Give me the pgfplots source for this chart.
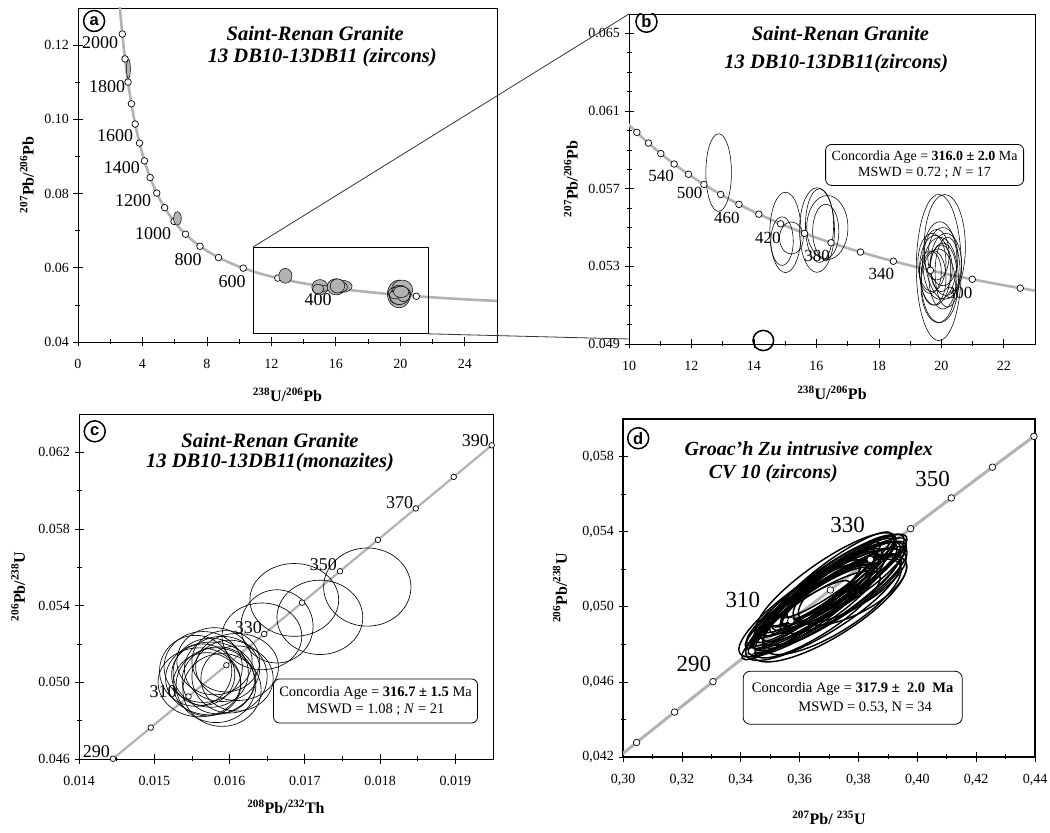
\documentclass[border=0pt]{standalone}
\usepackage{pgfplots}
\pgfplotsset{compat=1.18}
\usepackage{pgfplotstable}
\usepackage{fontspec}
\setmainfont{Liberation Serif}
\newfontfamily\sansbf{Liberation Sans}

\pgfdeclareplotmark{ellS}{\pgfpathellipse{\pgfpointorigin}{\pgfpointpolar{\erot}{\erx pt}}{\pgfpointpolar{\erotb}{\ery pt}}\pgfusepathqstroke}
\pgfdeclareplotmark{ellF}{\pgfpathellipse{\pgfpointorigin}{\pgfpointpolar{\erot}{\erx pt}}{\pgfpointpolar{\erotb}{\ery pt}}\pgfusepathqfillstroke}

\tikzset{
  circlab/.style={circle, draw, line width=1.5pt, inner sep=0pt, minimum size=21pt, font=\sansbf\bfseries\fontsize{16.5}{16.5}\selectfont},
  ttl/.style={font=\fontsize{20.5}{23}\selectfont\bfseries\itshape},
}
\pgfplotsset{
  panel/.style={scale only axis, clip=true, anchor=south west,
    axis line style={line width=0.9pt},
    every tick/.style={black, line width=0.7pt},
    tick align=center, major tick length=9pt, minor tick length=5pt,
    tick pos=left, scaled ticks=false,
    /pgf/number format/assume math mode=true,
    tick label style={font=\fontsize{14}{16}\selectfont},
    x tick label style={yshift=-9pt},
    y tick label style={xshift=-1pt},
    label style={font=\fontsize{16}{18}\selectfont\bfseries}},
  conc/.style={smooth, no markers, line width=2.6pt, color=black!30},
  cmark/.style={only marks, mark=*, mark size=3.3pt, mark options={fill=white, draw=black, line width=0.7pt}},
  ellplot/.style n args={3}{scatter, only marks, mark=#3,
    visualization depends on={\thisrow{rx}*#1 \as \erx},
    visualization depends on={\thisrow{ry}*#2 \as \ery},
    scatter/@pre marker code/.code={\def\erot{0}\def\erotb{90}},
    scatter/@post marker code/.code={}},
  rotell/.style={scatter, only marks, mark=ellS,
    visualization depends on={\thisrow{a} \as \erx},
    visualization depends on={\thisrow{b} \as \ery},
    visualization depends on={\thisrow{rot} \as \erot},
    visualization depends on={\thisrow{rot}+90 \as \erotb},
    scatter/@pre marker code/.code={},
    scatter/@post marker code/.code={}},
}

% Tera-Wasserburg concordia (238U/206Pb, 207Pb/206Pb)
\pgfplotstableread{
age x y
2200 2.4586 0.137822
2100 2.5968 0.130151
2000 2.7490 0.122987
1900 2.9174 0.116293
1800 3.1046 0.110037
1700 3.3139 0.104186
1600 3.5497 0.098716
1500 3.8170 0.093597
1400 4.1227 0.088807
1300 4.4756 0.084323
1200 4.8875 0.080123
1100 5.3746 0.076187
1000 5.9593 0.072500
900 6.6743 0.069042
800 7.5684 0.065799
700 8.7182 0.062757
620 9.9055 0.060458
600 10.2518 0.059901
580 10.6220 0.059351
560 11.0187 0.058808
540 11.4448 0.058272
520 11.9037 0.057743
500 12.3993 0.057219
480 12.9362 0.056703
460 13.5199 0.056193
440 14.1566 0.055689
420 14.8540 0.055192
400 15.6212 0.054701
380 16.4691 0.054215
360 17.4114 0.053736
340 18.4645 0.053263
320 19.6492 0.052795
300 20.9920 0.052333
280 22.5265 0.051877
260 24.2973 0.051426
240 26.3633 0.050983
}\twline
\pgfplotstableread{
age x y
2000 2.7490 0.122987
1900 2.9174 0.116293
1800 3.1046 0.110037
1700 3.3139 0.104186
1600 3.5497 0.098716
1500 3.8170 0.093597
1400 4.1227 0.088807
1300 4.4756 0.084323
1200 4.8875 0.080123
1100 5.3746 0.076187
1000 5.9593 0.072500
900 6.6743 0.069042
800 7.5684 0.065799
700 8.7182 0.062757
600 10.2518 0.059901
500 12.3993 0.057219
400 15.6212 0.054701
300 20.9920 0.052333
}\twmarkA
\pgfplotstableread{
age x y
600 10.2518 0.059901
580 10.6220 0.059351
560 11.0187 0.058808
540 11.4448 0.058272
520 11.9037 0.057743
500 12.3993 0.057219
480 12.9362 0.056703
460 13.5199 0.056193
440 14.1566 0.055689
420 14.8540 0.055192
400 15.6212 0.054701
380 16.4691 0.054215
360 17.4114 0.053736
340 18.4645 0.053263
320 19.6492 0.052795
300 20.9920 0.052333
280 22.5265 0.051877
}\twmarkB
% zircon ellipses (centre, half-widths in axis units)
\pgfplotstableread{
x y rx ry
12.87 0.05783 0.41 0.00200
15.01 0.05475 0.50 0.00207
15.20 0.05446 0.38 0.00083
14.90 0.05430 0.36 0.00125
16.02 0.05487 0.56 0.00218
16.35 0.05500 0.66 0.00165
16.30 0.05480 0.42 0.00140
16.10 0.05510 0.45 0.00190
19.92 0.05294 0.72 0.00376
20.11 0.05400 0.66 0.00270
19.95 0.05330 0.55 0.00200
19.80 0.05280 0.50 0.00180
20.05 0.05250 0.45 0.00170
19.70 0.05320 0.45 0.00150
19.90 0.05200 0.55 0.00190
20.15 0.05310 0.50 0.00160
19.85 0.05360 0.40 0.00130
19.75 0.05240 0.40 0.00140
20.00 0.05290 0.35 0.00120
19.95 0.05230 0.60 0.00220
20.20 0.05270 0.40 0.00180
19.65 0.05270 0.35 0.00110
20.05 0.05350 0.48 0.00150
}\ellB
\pgfplotstableread{
x y rx ry
3.13 0.1136 0.12 0.0026
6.17 0.0733 0.24 0.0018
}\ellAold
\pgfplotstableread{
x y rx ry
14.30 0.04918 0.33 0.00052
}\ellBcirc
% Th-U concordia
\pgfplotstableread{
age x y
280 0.0139494 0.0443921
290 0.0144512 0.0460135
300 0.0149532 0.0476374
310 0.0154555 0.0492638
320 0.0159580 0.0508927
330 0.0164608 0.0525242
340 0.0169638 0.0541582
350 0.0174671 0.0557947
360 0.0179706 0.0574338
370 0.0184743 0.0590754
380 0.0189783 0.0607196
390 0.0194826 0.0623664
400 0.0199871 0.0640154
}\thline
\pgfplotstableread{
age x y
290 0.0144512 0.0460135
300 0.0149532 0.0476374
310 0.0154555 0.0492638
320 0.0159580 0.0508927
330 0.0164608 0.0525242
340 0.0169638 0.0541582
350 0.0174671 0.0557947
360 0.0179706 0.0574338
370 0.0184743 0.0590754
380 0.0189783 0.0607196
390 0.0194826 0.0623664
}\thmark
\pgfplotstableread{
x y rx ry
0.01783 0.05497 0.00058 0.00204
0.01720 0.05339 0.00057 0.00194
0.01686 0.05430 0.00059 0.00190
0.01663 0.05292 0.00048 0.00191
0.01643 0.05240 0.00053 0.00174
0.01575 0.05050 0.00050 0.00180
0.01565 0.05080 0.00052 0.00185
0.01585 0.05010 0.00048 0.00175
0.01560 0.05000 0.00055 0.00180
0.01590 0.05070 0.00050 0.00170
0.01600 0.05030 0.00050 0.00190
0.01570 0.04990 0.00045 0.00165
0.01580 0.05110 0.00050 0.00175
0.01555 0.05060 0.00048 0.00185
0.01610 0.05080 0.00055 0.00175
0.01590 0.04960 0.00052 0.00190
0.01575 0.05020 0.00060 0.00190
0.01595 0.05110 0.00045 0.00160
0.01565 0.05040 0.00042 0.00160
0.01610 0.05020 0.00048 0.00170
0.01582 0.04985 0.00053 0.00195
}\ellC
% Wetherill concordia
\pgfplotstableread{
age x y
260 0.291831 0.0411569
270 0.304616 0.0427733
280 0.317529 0.0443921
290 0.330568 0.0460135
300 0.343737 0.0476374
310 0.357037 0.0492638
320 0.370468 0.0508927
330 0.384031 0.0525242
340 0.397729 0.0541582
350 0.411562 0.0557947
360 0.425533 0.0574338
370 0.439642 0.0590754
380 0.453891 0.0607196
}\wline
\pgfplotstableread{
age x y
270 0.304616 0.0427733
280 0.317529 0.0443921
290 0.330568 0.0460135
300 0.343737 0.0476374
310 0.357037 0.0492638
320 0.370468 0.0508927
330 0.384031 0.0525242
340 0.397729 0.0541582
350 0.411562 0.0557947
360 0.425533 0.0574338
370 0.439642 0.0590754
}\wmark
% zircon ellipses (centre; half-axes a, b on the page; tilt)
\pgfplotstableread{
x y a b rot
0.3675 0.0504 98 24 33.5
0.3660 0.0502 80 16 34
0.3700 0.0508 82 20 35
0.3650 0.0500 75 15 36
0.3720 0.0510 78 17 34
0.3690 0.0504 88 22 33
0.3670 0.0507 70 14 36
0.3710 0.0500 80 26 32
0.3640 0.0498 72 16 35
0.3730 0.0513 80 18 35
0.3660 0.0509 78 15 37
0.3700 0.0499 90 28 32
0.3750 0.0512 74 18 33
0.3620 0.0497 78 14 36
0.3690 0.0512 84 22 35
0.3740 0.0507 70 20 31
0.3630 0.0503 66 14 37
0.3710 0.0514 76 15 35
0.3680 0.0499 90 24 32
0.3760 0.0516 72 16 34
0.3650 0.0505 82 17 35
0.3720 0.0505 86 20 34
0.3670 0.0501 68 18 34
0.3700 0.0512 80 14 36
0.3770 0.0511 64 22 30
0.3610 0.0500 70 15 36
0.3690 0.0507 96 18 34
0.3740 0.0515 66 14 36
0.3660 0.0496 74 20 33
0.3710 0.0509 60 12 35
0.3780 0.0509 60 24 28
0.3600 0.0494 62 14 35
0.3720 0.0517 70 15 36
0.3680 0.0510 64 13 36
}\ellD

\begin{document}
\begin{tikzpicture}
\useasboundingbox (0pt,0pt) rectangle (1050pt,833pt);

%---------------- (a)
\begin{axis}[panel, name=A, at={(78pt,491pt)}, width=419pt, height=334pt,
  xmin=0, xmax=26, ymin=0.04, ymax=0.13,
  xtick={0,4,8,12,16,20,24}, ytick={0.04,0.06,0.08,0.10,0.12},
  minor x tick num=1, minor y tick num=1,
  yticklabel style={/pgf/number format/fixed, /pgf/number format/fixed zerofill, /pgf/number format/precision=2},
  xlabel={\textsuperscript{238}U/\textsuperscript{206}Pb},
  ylabel={\textsuperscript{207}Pb/\textsuperscript{206}Pb},
  xlabel style={at={(axis description cs:0.5,-0.159)}, anchor=center},
  ylabel style={at={(axis description cs:-0.122,0.5)}, anchor=center}]
\addplot[conc] table[x=x,y=y] {\twline};
\addplot[cmark] table[x=x,y=y] {\twmarkA};
\addplot[ellplot={16.115}{334/0.09}{ellF}, mark options={draw=black, fill=black!30, line width=0.5pt}] table[x=x,y=y] {\ellB};
\addplot[ellplot={16.115}{334/0.09}{ellF}, mark options={draw=black, fill=black!30, line width=0.5pt}] table[x=x,y=y] {\ellAold};
\draw[line width=0.9pt] (axis cs:10.87,0.0422) rectangle (axis cs:21.74,0.0656);
\coordinate (ins1) at (axis cs:10.87,0.0656);
\coordinate (ins2) at (axis cs:21.74,0.0422);
\node[circlab] at (axis cs:1.0,0.1265) {a};
\node[ttl] at (axis cs:14.72,0.12324) {Saint-Renan Granite};
\node[ttl] at (axis cs:15.16,0.11651) {13 DB10-13DB11 (zircons)};
\begin{scope}[every node/.style={font=\fontsize{18}{20}\selectfont}]
\node at (axis cs:1.37,0.1206) {2000};
\node at (axis cs:1.80,0.1087) {1800};
\node at (axis cs:2.30,0.0957) {1600};
\node at (axis cs:2.73,0.0871) {1400};
\node at (axis cs:3.42,0.0782) {1200};
\node at (axis cs:4.66,0.0693) {1000};
\node at (axis cs:6.83,0.0623) {800};
\node at (axis cs:9.56,0.0562) {600};
\node at (axis cs:14.9,0.0513) {400};
\end{scope}
\end{axis}

%---------------- (b)
\begin{axis}[panel, name=B, at={(629pt,489pt)}, width=406pt, height=330pt,
  xmin=10, xmax=23, ymin=0.049, ymax=0.066,
  xtick={10,12,14,16,18,20,22}, ytick={0.049,0.053,0.057,0.061,0.065},
  minor x tick num=1, minor y tick num=3,
  yticklabel style={/pgf/number format/fixed, /pgf/number format/fixed zerofill, /pgf/number format/precision=3},
  xlabel={\textsuperscript{238}U/\textsuperscript{206}Pb},
  ylabel={\textsuperscript{207}Pb/\textsuperscript{206}Pb},
  xlabel style={at={(axis description cs:0.5,-0.148)}, anchor=center},
  ylabel style={at={(axis description cs:-0.143,0.5)}, anchor=center}]
\addplot[conc] table[x=x,y=y] {\twline};
\begin{scope}[every node/.style={font=\fontsize{17}{19}\selectfont}]
\node at (axis cs:11.03,0.05764) {540};
\node at (axis cs:11.94,0.05679) {500};
\node at (axis cs:13.13,0.05550) {460};
\node at (axis cs:14.45,0.05448) {420};
\node at (axis cs:16.02,0.05353) {380};
\node at (axis cs:18.08,0.05259) {340};
\node at (axis cs:20.59,0.05165) {300};
\end{scope}
\addplot[ellplot={31.2308}{330/0.017}{ellS}, mark options={draw=black, line width=0.55pt}] table[x=x,y=y] {\ellB};
\addplot[ellplot={31.2308}{330/0.017}{ellS}, mark options={draw=black, line width=1.5pt}] table[x=x,y=y] {\ellBcirc};
\addplot[cmark] table[x=x,y=y] {\twmarkB};
\node[circlab] at (axis cs:10.56,0.0656) {b};
\node[ttl] at (axis cs:16.77,0.06500) {Saint-Renan Granite};
\node[ttl] at (axis cs:16.64,0.06346) {13 DB10-13DB11(zircons)};
\node[draw, fill=white, line width=0.8pt, rounded corners=6pt, align=center, minimum width=198pt, minimum height=41pt, inner sep=2pt, font=\fontsize{14}{16.5}\selectfont] at (axis cs:19.465,0.058225) {Concordia Age = \textbf{316.0 ± 2.0} Ma\\MSWD = 0.72 ; \textit{N} = 17};
\end{axis}

\draw[line width=0.8pt, black!80] (ins1) -- (B.north west);
\draw[line width=0.8pt, black!80] (ins2) -- ([yshift=5pt]B.south west);

%---------------- (c)
\begin{axis}[panel, name=C, at={(79pt,74pt)}, width=414pt, height=345pt,
  xmin=0.014, xmax=0.0195, ymin=0.046, ymax=0.064,
  xtick={0.014,0.015,0.016,0.017,0.018,0.019}, ytick={0.046,0.050,0.054,0.058,0.062},
  minor x tick num=1, minor y tick num=1,
  xticklabel style={/pgf/number format/fixed, /pgf/number format/fixed zerofill, /pgf/number format/precision=3},
  yticklabel style={/pgf/number format/fixed, /pgf/number format/fixed zerofill, /pgf/number format/precision=3},
  xlabel={\textsuperscript{208}Pb/\textsuperscript{232}Th},
  ylabel={\textsuperscript{206}Pb/\textsuperscript{238}U},
  xlabel style={at={(axis description cs:0.5,-0.139)}, anchor=center},
  ylabel style={at={(axis description cs:-0.147,0.5)}, anchor=center}]
\addplot[conc, line width=2.2pt] table[x=x,y=y] {\thline};
\begin{scope}[every node/.style={font=\fontsize{18}{20}\selectfont}]
\node at (axis cs:0.01423,0.0464) {290};
\node at (axis cs:0.015118,0.04953) {310};
\node at (axis cs:0.016249,0.052835) {330};
\node at (axis cs:0.017248,0.056139) {350};
\node at (axis cs:0.018259,0.059391) {370};
\node at (axis cs:0.019266,0.062626) {390};
\end{scope}
\addplot[ellplot={414/0.0055}{345/0.018}{ellS}, mark options={draw=black, line width=0.65pt}] table[x=x,y=y] {\ellC};
\addplot[cmark, mark size=2.8pt] table[x=x,y=y] {\thmark};
\node[circlab] at (axis cs:0.014209,0.063096) {c};
\node[ttl] at (axis cs:0.016538,0.062626) {Saint-Renan Granite};
\node[ttl] at (axis cs:0.016538,0.061443) {13 DB10-13DB11(monazites)};
\node[draw, fill=white, line width=0.8pt, rounded corners=6pt, align=center, minimum width=204pt, minimum height=44pt, inner sep=2pt, font=\fontsize{14.5}{17.5}\selectfont] at (axis cs:0.01794,0.049026) {Concordia Age = \textbf{316.7 ± 1.5} Ma\\MSWD = 1.08 ; \textit{N} = 21};
\end{axis}

%---------------- (d)
\begin{axis}[panel, name=D, at={(623pt,76pt)}, width=412pt, height=338pt,
  xmin=0.30, xmax=0.44, ymin=0.042, ymax=0.060,
  axis line style={line width=1.4pt},
  xtick={0.30,0.32,0.34,0.36,0.38,0.40,0.42,0.44}, ytick={0.042,0.046,0.050,0.054,0.058},
  minor x tick num=1, minor y tick num=1,
  xticklabel style={/pgf/number format/fixed, /pgf/number format/fixed zerofill, /pgf/number format/precision=2, /pgf/number format/use comma},
  yticklabel style={/pgf/number format/fixed, /pgf/number format/fixed zerofill, /pgf/number format/precision=3, /pgf/number format/use comma},
  xlabel={\textsuperscript{207}Pb/ \textsuperscript{235}U},
  ylabel={\textsuperscript{206}Pb/\textsuperscript{238}U},
  xlabel style={at={(axis description cs:0.5,-0.18)}, anchor=center},
  ylabel style={at={(axis description cs:-0.153,0.5)}, anchor=center}]
\addplot[conc, line width=3pt] table[x=x,y=y] {\wline};
\begin{scope}[every node/.style={font=\fontsize{23}{25}\selectfont}]
\node at (axis cs:0.3241,0.04698) {290};
\node at (axis cs:0.34074,0.05035) {310};
\node at (axis cs:0.37631,0.05437) {330};
\node at (axis cs:0.40523,0.0568) {350};
\end{scope}
\addplot[rotell, mark options={draw=black, line width=1.45pt}] table[x=x,y=y] {\ellD};
\addplot[cmark] table[x=x,y=y] {\wmark};
\node[circlab] at (axis cs:0.30516,0.058975) {d};
\node[ttl, font=\fontsize{20}{23}\selectfont\bfseries\itshape] at (axis cs:0.36312,0.05832) {Groac'h Zu intrusive complex};
\node[ttl, font=\fontsize{20}{23}\selectfont\bfseries\itshape] at (axis cs:0.35107,0.05711) {CV 10 (zircons)};
\node[draw, fill=white, line width=0.8pt, rounded corners=7pt, align=left, minimum width=219pt, minimum height=53pt, inner sep=4pt, font=\fontsize{14.5}{19}\selectfont] at (axis cs:0.37804,0.045154) {Concordia Age = \textbf{317.9 ±\ \ 2.0\ \ Ma}\\\hspace*{3.2em}MSWD\ = 0.53, N = 34};
\end{axis}
\end{tikzpicture}
\end{document}
